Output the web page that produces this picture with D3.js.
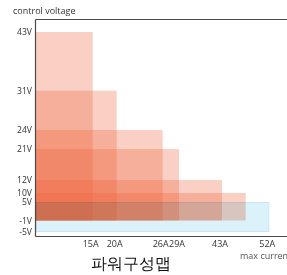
<!DOCTYPE html>
<html><head><meta charset="utf-8">
<script src="https://cdn.jsdelivr.net/npm/d3@7"></script>
<style>
html,body{margin:0;padding:0;background:#fff;overflow:hidden;}
svg{display:block;}
text{font-family:"Open Sans","Noto Sans",sans-serif;}
</style></head>
<body>
<script>
// Data
const voltages = [43, 31, 24, 21, 12, 10];      // top of each power zone (V)
const currents = [15, 20, 26, 29, 43, 47.5];    // max current of each zone (A)
const floorVoltage = -1;
const blueZone = {top: 5, bottom: -5, current: 52};
const xTicks = [15, 20, 26, 29, 43, 52];
const yTicks = [43, 31, 24, 21, 12, 10, 5, -1, -5];
const title = "파워구성맵";
const yLabel = "control voltage";
const xLabel = "max current";

const W = 287, H = 275;
const svg = d3.select("body").append("svg").attr("width", W).attr("height", H);

// piecewise scales (chart axes are not uniformly spaced)
const x = d3.scaleLinear()
  .domain([0, 15, 20, 26, 29, 43, 52])
  .range([36, 92.7, 116.7, 162.7, 179, 222, 269.3]);
const y = d3.scaleLinear()
  .domain([43, 31, 24, 21, 12, 10, 5, -1, -5])
  .range([32, 90.7, 130, 149, 180, 193, 202, 220.5, 232]);

const zones = voltages.map((v, i) => ({v, a: currents[i]}));

svg.append("g").selectAll("rect").data(zones).join("rect")
  .attr("x", x(0))
  .attr("y", d => y(d.v))
  .attr("width", d => x(d.a) - x(0))
  .attr("height", d => y(floorVoltage) - y(d.v))
  .attr("fill", "rgb(240,100,60)")
  .attr("fill-opacity", 0.3);

svg.append("rect")
  .attr("x", x(0) + 0.5)
  .attr("y", y(blueZone.top) + 0.5)
  .attr("width", x(blueZone.current) - x(0) - 1)
  .attr("height", y(blueZone.bottom) - y(blueZone.top) - 1)
  .attr("fill", "#dcf2fa")
  .attr("stroke", "#c9e6f0")
  .attr("stroke-width", 1)
  .style("mix-blend-mode", "multiply");

// frame lines
const frame = svg.append("g").attr("stroke", "#4a4a4a").attr("stroke-width", 1.2);
frame.append("line").attr("x1", 35.5).attr("x2", W).attr("y1", 19.5).attr("y2", 19.5);
frame.append("line").attr("x1", 35.5).attr("x2", 35.5).attr("y1", 19.5).attr("y2", 236.5);
frame.append("line").attr("x1", 35.5).attr("x2", W).attr("y1", 236.5).attr("y2", 236.5);

// y tick labels
svg.append("g").selectAll("text").data(yTicks).join("text")
  .attr("x", 32)
  .attr("y", d => y(d))
  .attr("dy", "0.35em")
  .attr("text-anchor", "end")
  .attr("font-size", 8.6)
  .attr("fill", "#333")
  .text(d => d + "V");

// x tick labels
svg.append("g").selectAll("text").data(xTicks).join("text")
  .attr("x", d => x(d) - 2)
  .attr("y", 247)
  .attr("text-anchor", "middle")
  .attr("font-size", 9)
  .attr("fill", "#333")
  .text(d => d + "A");

svg.append("text").attr("x", 13).attr("y", 14)
  .attr("font-size", 9).attr("fill", "#333").text(yLabel);
svg.append("text").attr("x", 240).attr("y", 259)
  .attr("font-size", 9).attr("fill", "#555").text(xLabel);
svg.append("text").attr("x", 131).attr("y", 269)
  .attr("text-anchor", "middle")
  .attr("font-family", "'Noto Sans CJK KR', sans-serif")
  .attr("font-size", 16).attr("fill", "#111").text(title);
</script>
</body></html>
